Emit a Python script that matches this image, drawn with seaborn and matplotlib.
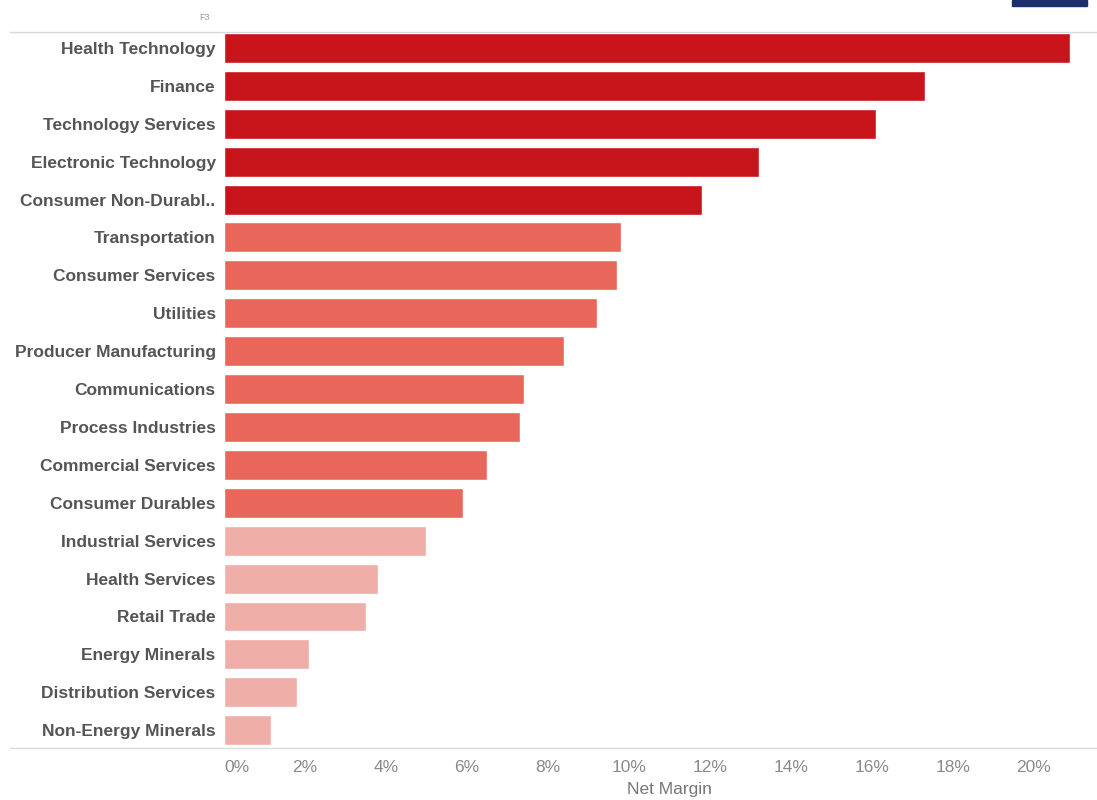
import matplotlib
matplotlib.use("Agg")
import matplotlib.pyplot as plt
import seaborn as sns
import pandas as pd
from matplotlib.lines import Line2D
from matplotlib.patches import Rectangle
from matplotlib.ticker import FuncFormatter

sectors = ["Health Technology", "Finance", "Technology Services", "Electronic Technology",
           "Consumer Non-Durabl..", "Transportation", "Consumer Services", "Utilities",
           "Producer Manufacturing", "Communications", "Process Industries",
           "Commercial Services", "Consumer Durables", "Industrial Services",
           "Health Services", "Retail Trade", "Energy Minerals", "Distribution Services",
           "Non-Energy Minerals"]
net_margin = [20.9, 17.3, 16.1, 13.2, 11.8, 9.8, 9.7, 9.2, 8.4, 7.4, 7.3, 6.5, 5.9,
              5.0, 3.8, 3.5, 2.1, 1.8, 1.15]
tier = ["high"] * 5 + ["mid"] * 8 + ["low"] * 6
tier_colors = {"high": "#c8141b", "mid": "#e8675a", "low": "#f0aea9"}
x_ticks = [0, 2, 4, 6, 8, 10, 12, 14, 16, 18, 20]

df = pd.DataFrame({"sector": sectors, "margin": net_margin, "tier": tier})

sns.set_theme(style="white")
plt.rcParams["font.family"] = ["Liberation Sans", "DejaVu Sans"]

fig = plt.figure(figsize=(10.97, 8.0), dpi=100)
ax = fig.add_axes([224 / 1097, 52 / 800, 861 / 1097, 716 / 800])

sns.barplot(data=df, x="margin", y="sector", hue="tier", palette=tier_colors,
            dodge=False, width=0.79, orient="h", legend=False, ax=ax,
            saturation=1)

ax.set_xlim(0, 21.26)
ax.set_ylim(18.47, -0.42)
ax.set_xticks(x_ticks)
ax.xaxis.set_major_formatter(FuncFormatter(lambda v, p: f"{v:.0f}%"))
ax.tick_params(axis="x", colors="#dddddd", labelcolor="#8a8a8a", labelsize=12.5,
               length=4, width=0.8, pad=5)
ax.tick_params(axis="y", length=0, labelsize=12.5, labelcolor="#555555", pad=6)
for lbl in ax.get_yticklabels():
    lbl.set_fontweight("bold")
fig.canvas.draw()
xl = ax.get_xticklabels()
xl[0].set_horizontalalignment("left")
ax.set_ylabel("")
ax.set_xlabel("Net Margin", fontsize=12.5, color="#777777")
ax.xaxis.set_label_coords((669 - 224) / 861, -0.047)
for s in ax.spines.values():
    s.set_visible(False)

# header/footer rules and small marks
fig.add_artist(Line2D([10 / 1097, 1.0], [768 / 800, 768 / 800], color="#d9d9d9", lw=1))
fig.add_artist(Line2D([10 / 1097, 1.0], [52 / 800, 52 / 800], color="#dcdcdc", lw=1))
fig.text(210 / 1097, 782 / 800, "F3", fontsize=6.5, color="#999999", ha="right", va="center")
fig.add_artist(Rectangle((1012 / 1097, 794 / 800), 75 / 1097, 6 / 800,
                         color="#1f2f6b", transform=fig.transFigure))

fig.savefig("out.png", dpi=100, facecolor="white")
